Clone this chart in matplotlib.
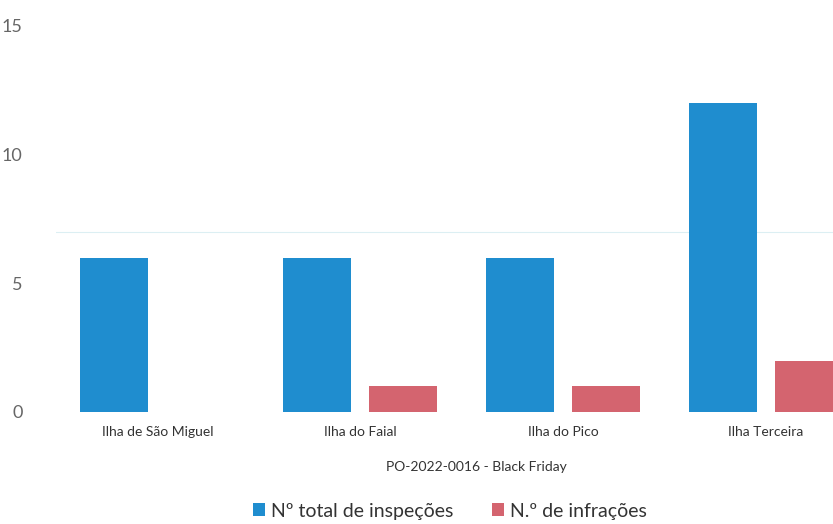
import matplotlib as mpl
mpl.use('Agg')
import matplotlib.pyplot as plt
import numpy as np

# Data
islands = ['Ilha de São Miguel', 'Ilha do Faial', 'Ilha do Pico', 'Ilha Terceira']
inspections = [6, 6, 6, 12]
infractions = [0, 1, 1, 2]
series_names = ['Nº total de inspeções', 'N.º de infrações']
xlabel = 'PO-2022-0016 - Black Friday'
yticks = [0, 5, 10, 15]

BLUE = '#1f8dcf'
RED = '#d4646f'
GREY = '#666666'

plt.rcParams['font.family'] = ['Lato', 'DejaVu Sans']

fig = plt.figure(figsize=(8.33, 5.24), dpi=100)
W, H = 833, 524
ax = fig.add_axes([56 / W, 1 - 412 / H, (833 - 56) / W, (412 - 26) / H])

x = np.arange(len(islands))
width = 0.335
offset = 0.212
ax.bar(x - offset, inspections, width, color=BLUE, label=series_names[0])
ax.bar(x + offset, infractions, width, color=RED, label=series_names[1])

# faint scan line visible in the reference
ax.axhline(7, color='#dcefF3', lw=0.8, zorder=0)

ax.set_xlim(-0.5, 3.33)
ax.set_ylim(0, 15)
ax.set_yticks(yticks)
ax.set_xticks(x)
ax.set_xticklabels(islands, fontsize=10, color='#333333')
ax.tick_params(axis='y', length=0, pad=24, labelsize=13, labelcolor=GREY)
ax.tick_params(axis='x', length=0, pad=10)
for side in ax.spines.values():
	side.set_visible(False)

fig.text(476 / W, 1 - 467 / H, xlabel, ha='center', va='center',
	fontsize=10, color='#333333')

fig.legend(loc='center', bbox_to_anchor=(450 / W, 1 - 511 / H), ncol=2,
	frameon=False, fontsize=14, handlelength=0.6, handleheight=0.6,
	handletextpad=0.3, columnspacing=2.0, labelcolor='#333333')

fig.savefig('out.png', dpi=100)
